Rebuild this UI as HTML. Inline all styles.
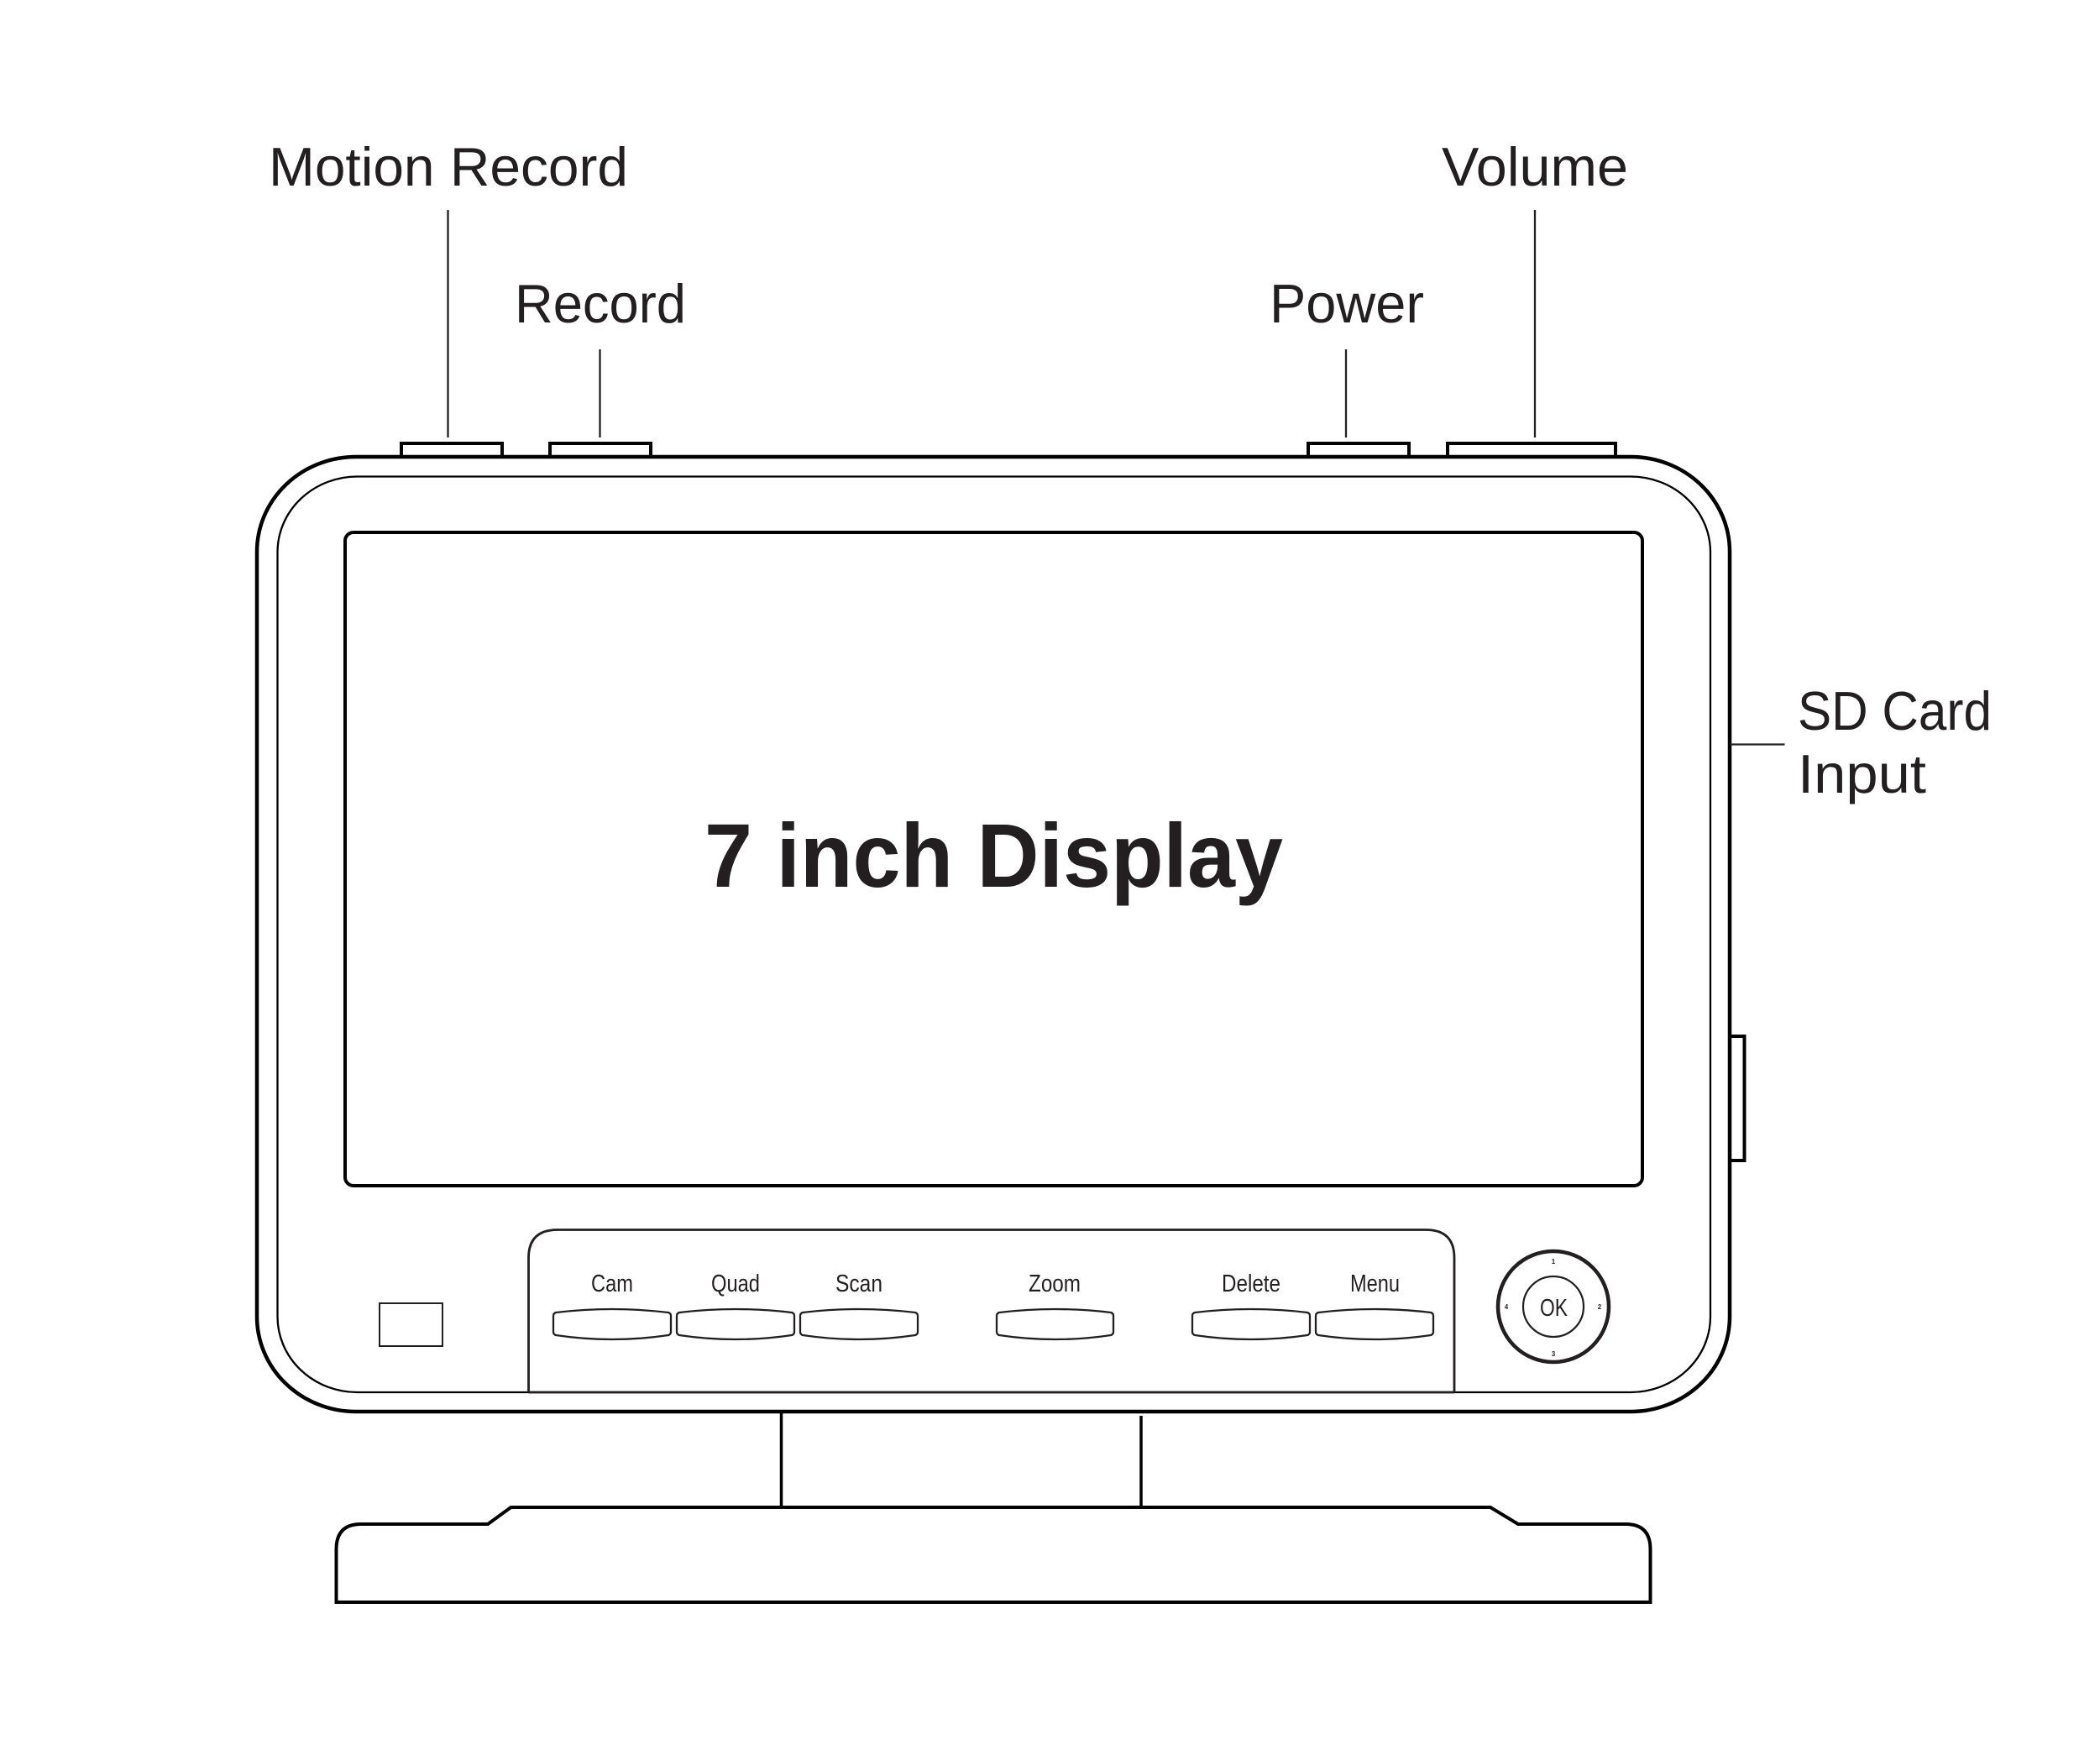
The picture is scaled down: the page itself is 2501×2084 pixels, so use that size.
<!DOCTYPE html>
<html><head><meta charset="utf-8"><style>
html,body{margin:0;padding:0;background:#fff}
svg{display:block}
.l{font-family:"Liberation Sans",sans-serif;font-size:65px;fill:#231f20}
.b{font-family:"Liberation Sans",sans-serif;font-size:29px;fill:#231f20;text-anchor:start}
.n{font-family:"Liberation Sans",sans-serif;font-size:8px;font-weight:bold;fill:#231f20;text-anchor:middle}
</style></head><body>
<svg width="2501" height="2084" viewBox="0 0 2501 2084" xmlns="http://www.w3.org/2000/svg">
<rect width="2501" height="2084" fill="#fff"/>
<g fill="none" stroke="#000" stroke-width="4">
<rect x="478" y="528" width="120" height="16"/>
<rect x="655" y="528" width="120" height="16"/>
<rect x="1558" y="528" width="120" height="16"/>
<rect x="1724" y="528" width="200" height="16"/>
<rect x="2060" y="1234" width="17.5" height="148"/>
<rect x="306" y="544" width="1754" height="1137" rx="118" ry="113" fill="#fff" stroke-width="4.500"/>
<rect x="330.500" y="567.500" width="1706.500" height="1090.500" rx="95" ry="90" stroke-width="2.300"/>
<rect x="411" y="634" width="1545" height="778" rx="10" ry="10"/>
<rect x="452" y="1552" width="75" height="51" stroke="#231f20" stroke-width="2"/>
<path d="M629.500 1658V1498Q629.500 1464.500 664 1464.500H1698Q1732 1464.500 1732 1498V1658M629.500 1658H1732" stroke="#231f20" stroke-width="2.800"/>
<path d="M930.500 1681V1795M1359 1686V1795" stroke-width="3.500"/>
<path d="M400.500 1908V1845Q400.500 1815 430 1815H581L608.500 1795H1775L1808 1815H1936Q1965.500 1815 1965.500 1845V1908Z" stroke-width="4"/>
<g stroke="#231f20" stroke-width="2.300">
<path d="M533.500 250V521M714.500 416V521M1603 416V521M1828 250V521M2060 886.500H2125.500"/>
<path d="M662 1563Q729 1555 796 1563Q799 1564 799 1567V1586Q799 1589 796 1590Q729 1600 662 1590Q659 1589 659 1586V1567Q659 1564 662 1563Z"/>
<path d="M809 1563Q876 1555 943 1563Q946 1564 946 1567V1586Q946 1589 943 1590Q876 1600 809 1590Q806 1589 806 1586V1567Q806 1564 809 1563Z"/>
<path d="M956 1563Q1023 1555 1090 1563Q1093 1564 1093 1567V1586Q1093 1589 1090 1590Q1023 1600 956 1590Q953 1589 953 1586V1567Q953 1564 956 1563Z"/>
<path d="M1190 1563Q1257 1555 1323 1563Q1326 1564 1326 1567V1586Q1326 1589 1323 1590Q1257 1600 1190 1590Q1187 1589 1187 1586V1567Q1187 1564 1190 1563Z"/>
<path d="M1423 1563Q1490 1555 1557 1563Q1560 1564 1560 1567V1586Q1560 1589 1557 1590Q1490 1600 1423 1590Q1420 1589 1420 1586V1567Q1420 1564 1423 1563Z"/>
<path d="M1570 1563Q1637 1555 1704 1563Q1707 1564 1707 1567V1586Q1707 1589 1704 1590Q1637 1600 1570 1590Q1567 1589 1567 1586V1567Q1567 1564 1570 1563Z"/>
</g>
<circle cx="1850" cy="1556" r="66" stroke="#231f20" stroke-width="4.500"/>
<circle cx="1850" cy="1556" r="36" stroke="#231f20" stroke-width="2.200"/>
</g>
<text class="l" x="320" y="221" textLength="428" lengthAdjust="spacingAndGlyphs">Motion Record</text>
<text class="l" x="613" y="384" textLength="204" lengthAdjust="spacingAndGlyphs">Record</text>
<text class="l" x="1512" y="384" textLength="184" lengthAdjust="spacingAndGlyphs">Power</text>
<text class="l" x="1717" y="221" textLength="222" lengthAdjust="spacingAndGlyphs">Volume</text>
<text class="l" x="2141" y="869" textLength="231" lengthAdjust="spacingAndGlyphs">SD Card</text>
<text class="l" x="2141" y="944" textLength="153" lengthAdjust="spacingAndGlyphs">Input</text>
<text x="839" y="1056" textLength="689" lengthAdjust="spacingAndGlyphs" style="font-family:'Liberation Sans',sans-serif;font-size:108px;font-weight:bold;fill:#231f20">7 inch Display</text>
<text class="b" x="704" y="1538" textLength="50" lengthAdjust="spacingAndGlyphs">Cam</text>
<text class="b" x="847" y="1538" textLength="58" lengthAdjust="spacingAndGlyphs">Quad</text>
<text class="b" x="995" y="1538" textLength="56" lengthAdjust="spacingAndGlyphs">Scan</text>
<text class="b" x="1225" y="1538" textLength="62" lengthAdjust="spacingAndGlyphs">Zoom</text>
<text class="b" x="1455" y="1538" textLength="70" lengthAdjust="spacingAndGlyphs">Delete</text>
<text class="b" x="1608" y="1538" textLength="59" lengthAdjust="spacingAndGlyphs">Menu</text>
<text class="b" x="1834" y="1567" textLength="33" lengthAdjust="spacingAndGlyphs">OK</text>
<text class="n" x="1850" y="1505">1</text>
<text class="n" x="1905" y="1559">2</text>
<text class="n" x="1850" y="1615">3</text>
<text class="n" x="1794" y="1559">4</text>
</svg>
</body></html>
